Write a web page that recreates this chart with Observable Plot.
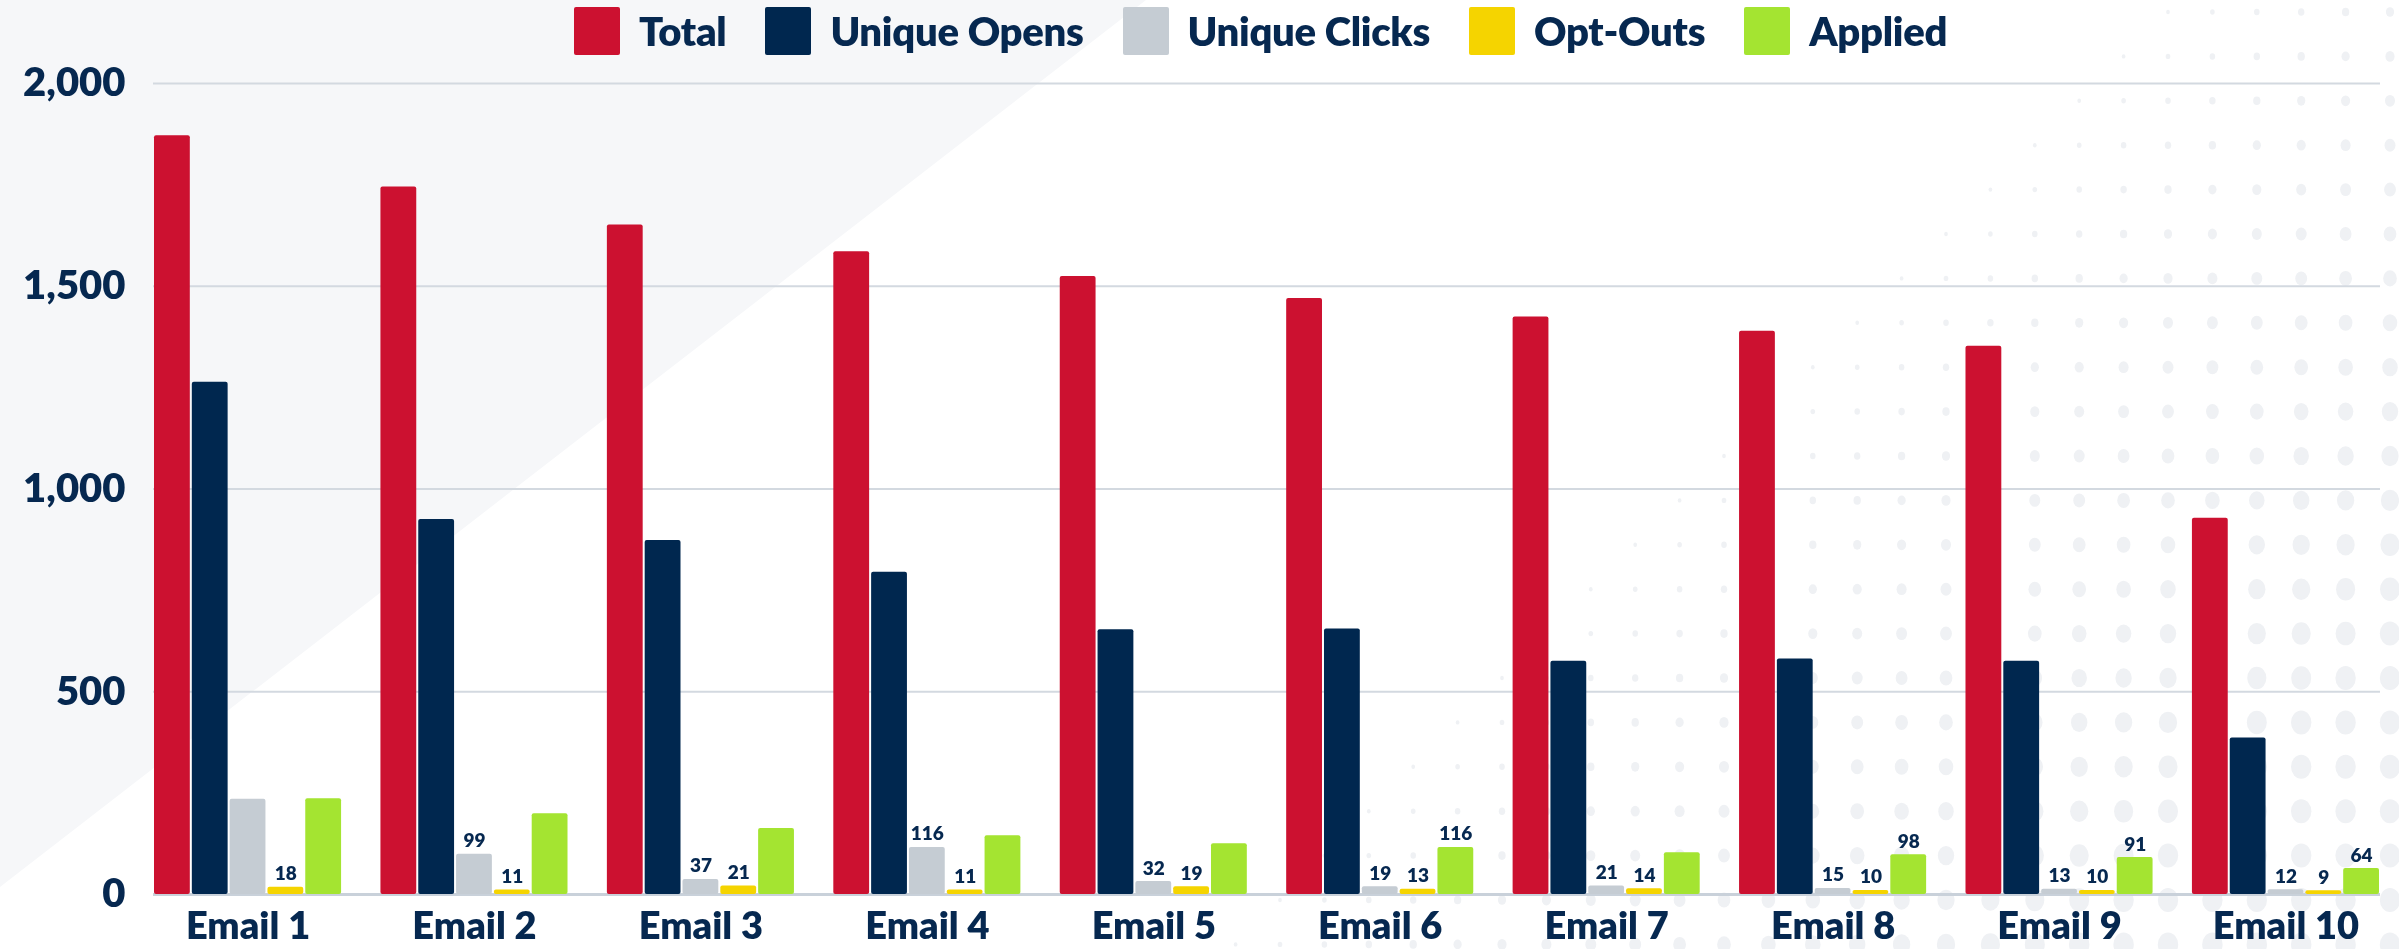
<!DOCTYPE html>
<html>
<head>
<meta charset="utf-8">
<script src="https://cdn.jsdelivr.net/npm/d3@7"></script>
<script src="https://cdn.jsdelivr.net/npm/@observablehq/plot@0.6"></script>
<style>
  html, body { margin: 0; padding: 0; background: #ffffff; }
  body { width: 2399px; height: 949px; position: relative; overflow: hidden; font-family: Lato, "Open Sans", sans-serif; }
  #bgTri { position: absolute; left: 0; top: 0; width: 2399px; height: 949px; background: #f6f7f9;
           clip-path: polygon(0 0, 1146px 0, 0 887px); z-index: 0; }
  #bgDots { position: absolute; left: 0; top: 0; z-index: 0; }
  #wrap { position: relative; z-index: 1; }
  #legend { height: 62px; display: flex; align-items: center; padding-left: 574px; box-sizing: border-box;
            margin-bottom: -40px; position: relative; z-index: 2; }
  .item { display: flex; align-items: center; margin-right: 39px; }
  .sw { width: 46px; height: 48px; border-radius: 2px; margin-right: 19px; }
  .lab { font-size: 40px; font-weight: 800; color: #062850; letter-spacing: -0.3px; }
  #chart { position: relative; z-index: 1; }
</style>
</head>
<body>
<div id="bgTri"></div>
<canvas id="bgDots" width="2399" height="949"></canvas>
<div id="wrap">
  <div id="legend"></div>
  <div id="chart"></div>
</div>
<script>
const emails = ["Email 1","Email 2","Email 3","Email 4","Email 5","Email 6","Email 7","Email 8","Email 9","Email 10"];
const series = ["Total","Unique Opens","Unique Clicks","Opt-Outs","Applied"];
const colors = ["#cc1130","#00274f","#c5ccd3","#f5d400","#a4e431"];

const total        = [1871,1745,1651,1585,1524,1470,1424,1389,1352,928];
const uniqueOpens  = [1263,925,873,795,653,655,575,581,575,386];
const uniqueClicks = [235,99,37,116,32,19,21,15,13,12];
const optOuts      = [18,11,21,11,19,13,14,10,10,9];
const applied      = [236,199,163,145,125,116,103,98,91,64];

// which bars carry a value label
const totalLabeled   = [false,false,false,false,false,false,false,false,false,false];
const opensLabeled   = [false,false,false,false,false,false,false,false,false,false];
const clicksLabeled  = [false,true,true,true,true,true,true,true,true,true];
const optOutsLabeled = [true,true,true,true,true,true,true,true,true,true];
const appliedLabeled = [false,false,false,false,false,true,false,true,true,true];

const yTicks = [0,500,1000,1500,2000];

const valuesBySeries = [total, uniqueOpens, uniqueClicks, optOuts, applied];
const labeledBySeries = [totalLabeled, opensLabeled, clicksLabeled, optOutsLabeled, appliedLabeled];

const rows = [];
series.forEach((s, si) => emails.forEach((e, ei) => rows.push({
  email: e, series: s, si, value: valuesBySeries[si][ei], labeled: labeledBySeries[si][ei]
})));

// decorative dotted background (not data)
(function () {
  const cv = document.getElementById("bgDots");
  const ctx = cv.getContext("2d");
  ctx.fillStyle = "#eff1f4";
  const sp = 44.4;
  for (let cx = 2390; cx > 0; cx -= sp) {
    for (let cy = 12; cy < 960; cy += sp) {
      const s = cx + cy - 2165;
      if (s < 0) continue;
      const r = Math.min(12, 2 + s * 0.012);
      ctx.beginPath(); ctx.ellipse(cx, cy, r * 0.85, r, 0, 0, Math.PI * 2); ctx.fill();
    }
  }
})();

// legend
const legend = document.getElementById("legend");
series.forEach((s, i) => {
  const it = document.createElement("div"); it.className = "item";
  const sw = document.createElement("div"); sw.className = "sw"; sw.style.background = colors[i];
  const lb = document.createElement("div"); lb.className = "lab"; lb.textContent = s;
  it.appendChild(sw); it.appendChild(lb); legend.appendChild(it);
});

const W = 2399, H = 927;
const mL = 153, mR = 19, mT = 61, mB = 55;
const padInner = 0.165;
const innerW = W - mL - mR;
const step = innerW / (emails.length - padInner);
const bandW = step * (1 - padInner);
const slot = bandW / series.length;
const gap = 2;
const n = series.length;
const textColor = "#062850";

const barMarks = series.map((s, i) => Plot.barY(rows.filter(d => d.si === i), {
  x: "email", y: "value", fill: colors[i], rx: 2,
  insetLeft: i * slot + gap / 2, insetRight: (n - 1 - i) * slot + gap / 2
}));
const textMarks = series.map((s, i) => Plot.text(rows.filter(d => d.si === i && d.labeled), {
  x: "email", y: "value", text: d => String(d.value),
  dx: (i - (n - 1) / 2) * slot, dy: -7, lineAnchor: "bottom",
  fill: textColor, fontSize: 19, fontWeight: 800
}));

const chart = Plot.plot({
  width: W, height: H,
  marginLeft: mL, marginRight: mR, marginTop: mT, marginBottom: mB,
  style: { background: "transparent", fontFamily: "Lato, 'Open Sans', sans-serif", color: textColor },
  x: { domain: emails, paddingInner: padInner, paddingOuter: 0, round: false, label: null },
  y: { domain: [0, 2000], label: null },
  marks: [
    Plot.gridY(yTicks, { stroke: "#d3d9e0", strokeOpacity: 1, strokeWidth: 2 }),
    Plot.ruleY([0], { stroke: "#c9d1da", strokeWidth: 3 }),
    ...barMarks,
    ...textMarks,
    Plot.axisY(yTicks, { tickSize: 0, tickPadding: 28, fontSize: 40, fontWeight: 800, fill: textColor,
      tickFormat: d3.format(","), label: null }),
    Plot.axisX({ tickSize: 0, tickPadding: 18, fontSize: 38, fontWeight: 800, fill: textColor, label: null })
  ]
});
document.getElementById("chart").appendChild(chart);
</script>
</body>
</html>
